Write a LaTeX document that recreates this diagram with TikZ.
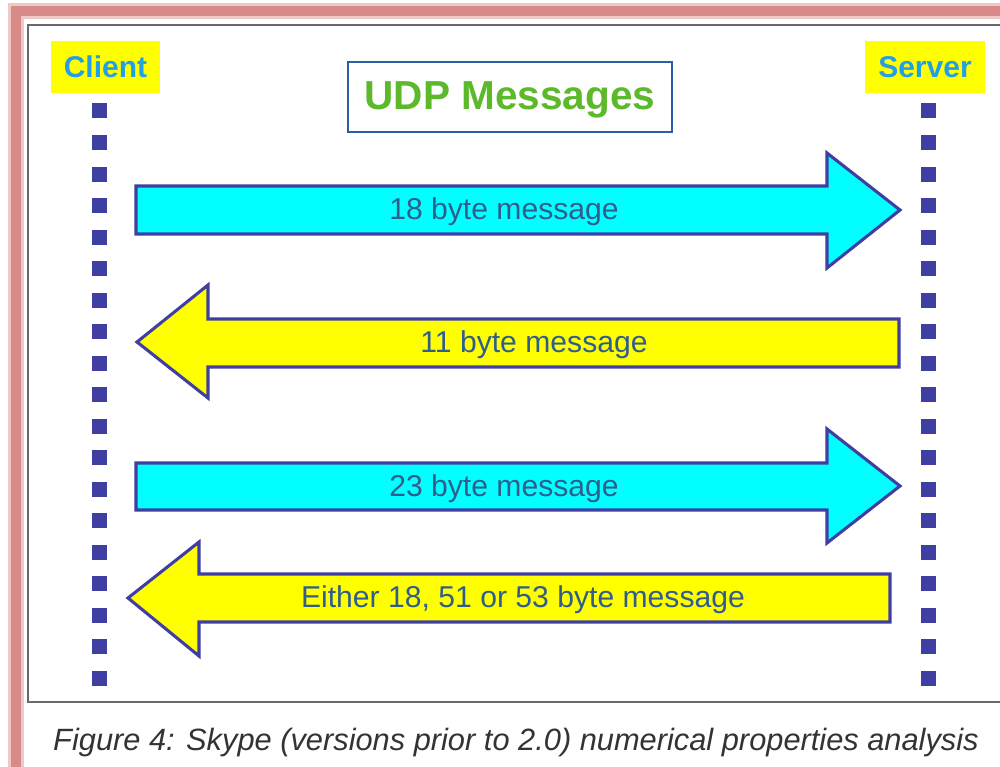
\documentclass[tikz,border=0pt]{standalone}
\usepackage{fontspec}
\setmainfont{Liberation Sans}
\definecolor{pinkframe}{HTML}{D88A88}
\definecolor{pinkshade}{HTML}{EFC9C8}
\definecolor{grayframe}{HTML}{6A6A6A}
\definecolor{lblue}{HTML}{22A0E6}
\definecolor{dotblue}{HTML}{3F3FA3}
\definecolor{titlegreen}{HTML}{5CBA2A}
\definecolor{titleblue}{HTML}{2B5CA6}
\definecolor{msgtext}{HTML}{2F5E8C}
\definecolor{captext}{HTML}{333333}
\definecolor{acyan}{HTML}{00FFFF}
\definecolor{ayellow}{HTML}{FFFF00}
\tikzset{
  lbl/.style={fill=ayellow, text=lblue, font=\fontsize{22.5}{27}\selectfont\bfseries, inner sep=0pt, minimum height=52*0.75pt, anchor=center},
  sq/.style={fill=dotblue},
  arrowshape/.style={draw=dotblue, line width=2.3pt, line join=miter},
  cyanarrow/.style={arrowshape, fill=acyan},
  yellowarrow/.style={arrowshape, fill=ayellow},
  msg/.style={text=msgtext, font=\fontsize{22.6}{27}\selectfont, inner sep=0pt, anchor=center}
}
\begin{document}
\begin{tikzpicture}[x=0.75pt, y=-0.75pt]
\useasboundingbox (0,0) rectangle (1000,767);
\clip (0,0) rectangle (1000,767);
\fill[white] (0,0) rectangle (1000,767);
% pink outer frame with soft shadow
\draw[pinkshade, line width=12pt] (16,11) rectangle (1020,790);
\draw[pinkframe, line width=7.5pt] (16,11) rectangle (1020,790);
% gray inner frame
\draw[grayframe, line width=1.6pt] (28,25) rectangle (1010,702);
% labels
\node[lbl, minimum width=109*0.75pt] (client) at (105.5,67) {Client};
\node[lbl, minimum width=120*0.75pt] (server) at (925,67) {Server};
% title
\node[draw=titleblue, line width=2.2pt, minimum width=324*0.75pt, minimum height=70*0.75pt, inner sep=0pt] (title) at (510,97) {};
\node[text=titlegreen, font=\fontsize{30.4}{36}\selectfont\bfseries, inner sep=0pt] (titletext) at (510,100) {UDP Messages};
% lifelines
\foreach \i in {0,...,18} {
  \fill[sq] (91.5,103.5+31.5*\i) rectangle ++(15,15);
  \fill[sq] (920.5,103.5+31.5*\i) rectangle ++(15,15);
}
% arrow 1
\draw[cyanarrow] (136,186) -- (827,186) -- (827,153) -- (900,210) -- (827,268) -- (827,234) -- (136,234) -- cycle;
\node[msg] (m1) at (504,212) {18 byte message};
% arrow 2
\draw[yellowarrow] (899,319) -- (208,319) -- (208,285) -- (137,342) -- (208,398) -- (208,367) -- (899,367) -- cycle;
\node[msg] (m2) at (534,345) {11 byte message};
% arrow 3
\draw[cyanarrow] (136,463) -- (827,463) -- (827,429) -- (900,486) -- (827,543) -- (827,510) -- (136,510) -- cycle;
\node[msg] (m3) at (504,489) {23 byte message};
% arrow 4
\draw[yellowarrow] (890,574) -- (199,574) -- (199,542) -- (128,598) -- (199,656) -- (199,622) -- (890,622) -- cycle;
\node[msg] (m4) at (523,600) {Either 18, 51 or 53 byte message};
% caption
\node[text=captext, font=\fontsize{23.1}{27}\selectfont\itshape, inner sep=0pt, anchor=center] (cap) at (516,743)
  {Figure 4: Skype (versions prior to 2.0) numerical properties analysis};
\end{tikzpicture}
\end{document}
